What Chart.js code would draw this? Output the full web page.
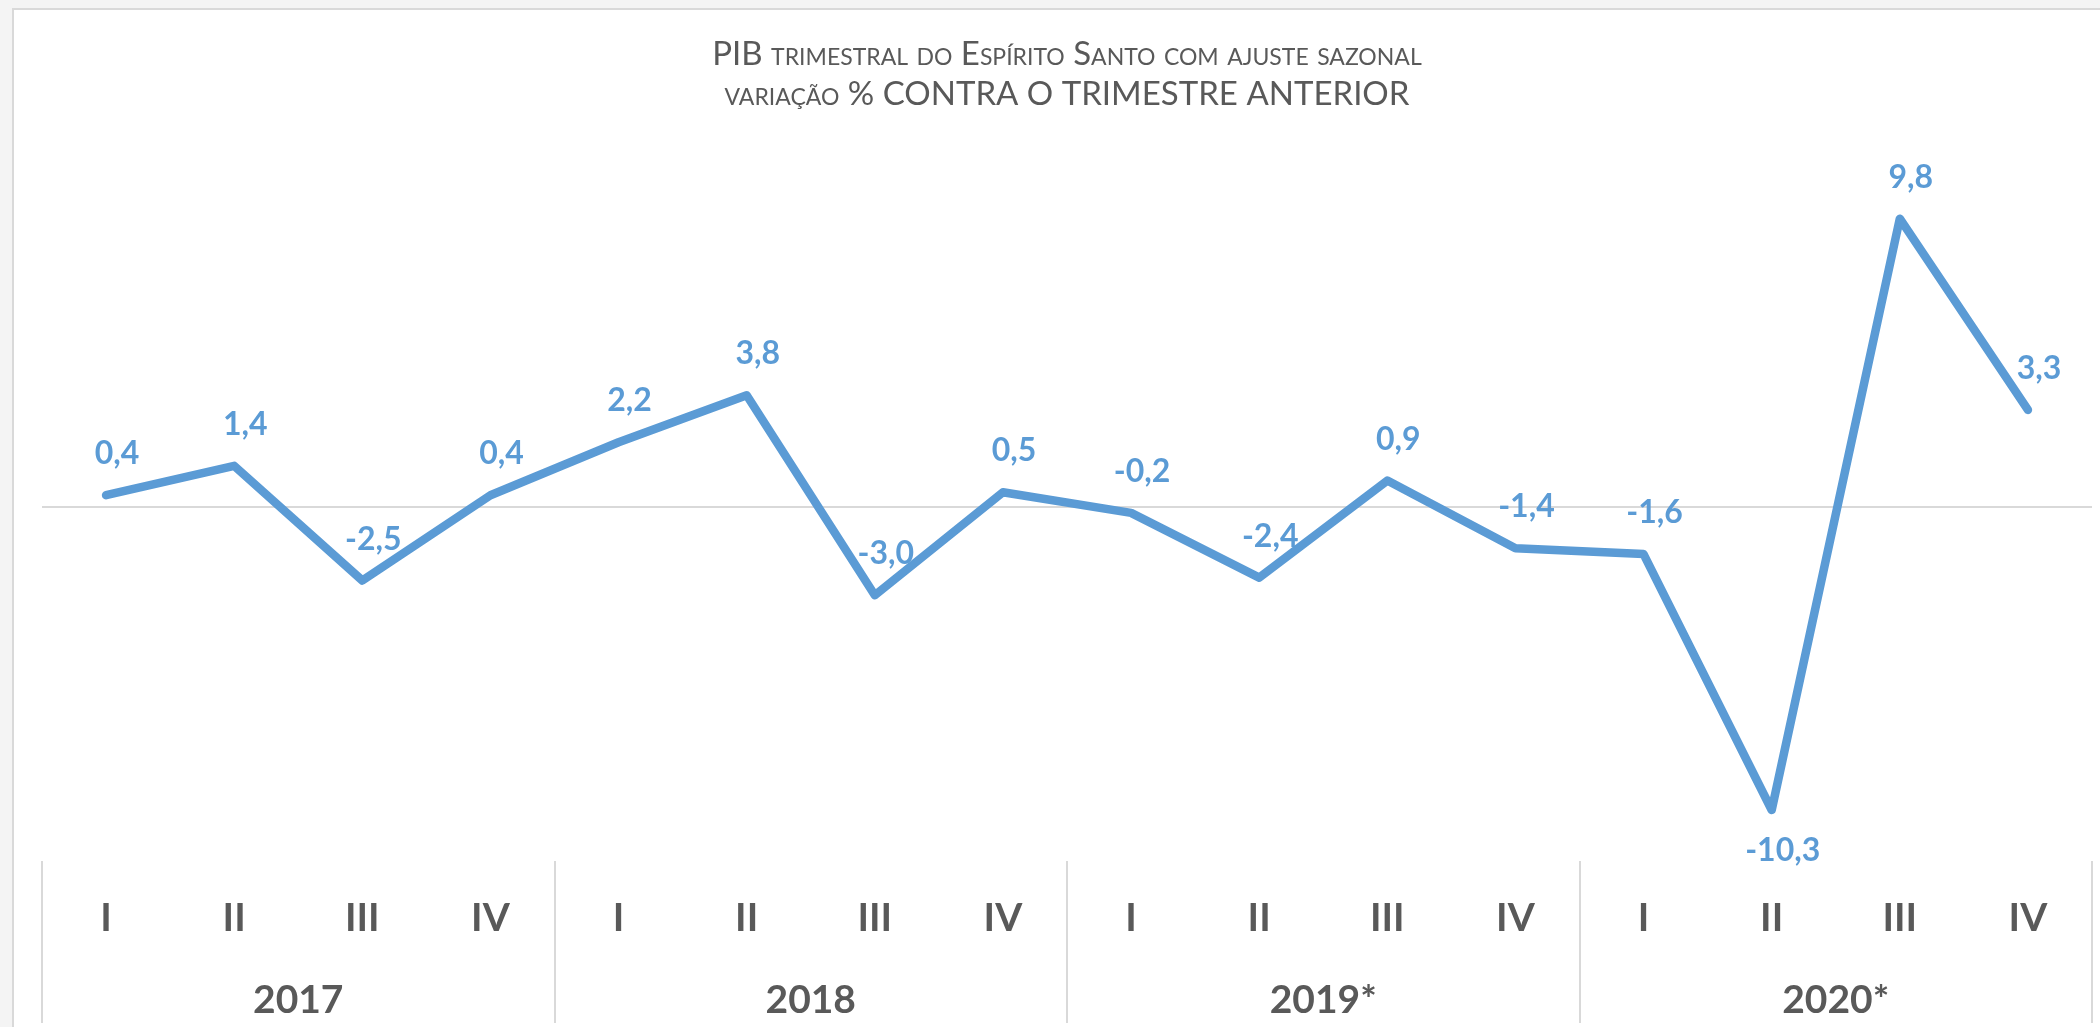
<!DOCTYPE html>
<html>
<head>
<meta charset="utf-8">
<script src="https://cdn.jsdelivr.net/npm/chart.js@4"></script>
<style>
  html, body { margin: 0; padding: 0; background: #f4f4f4; overflow: hidden; }
  #frame { position: absolute; left: 12px; top: 8px; width: 2200px; height: 1100px;
           background: #ffffff; border-left: 2px solid #d9d9d9; border-top: 2px solid #d9d9d9; }
  #c { position: absolute; left: 0; top: 0; }
</style>
</head>
<body>
<div id="frame"></div>
<canvas id="c" width="2100" height="1027"></canvas>
<script>
const titleLines = ['PIB trimestral do Espírito Santo com ajuste sazonal', 'variação % CONTRA O TRIMESTRE ANTERIOR'];
const quarterLabels = ['I','II','III','IV','I','II','III','IV','I','II','III','IV','I','II','III','IV'];
const yearLabels = ['2017', '2018', '2019*', '2020*'];
const pibVariation = [0.4, 1.4, -2.5, 0.4, 2.2, 3.8, -3.0, 0.5, -0.2, -2.4, 0.9, -1.4, -1.6, -10.3, 9.8, 3.3];
const labelBelow = [13];

const GREY = '#595959';
const BLUE = '#5B9BD5';
const LINE_GREY = '#d9d9d9';

const decorPlugin = {
  id: 'decor',
  afterDatasetsDraw(chart) {
    const ctx = chart.ctx;
    const meta = chart.getDatasetMeta(0);
    ctx.save();
    ctx.font = 'bold 32px Lato';
    ctx.fillStyle = BLUE;
    ctx.textAlign = 'center';
    ctx.textBaseline = 'alphabetic';
    meta.data.forEach((pt, i) => {
      const below = labelBelow.includes(i);
      const txt = pibVariation[i].toFixed(1).replace('.', ',');
      ctx.fillText(txt, pt.x + 11, below ? pt.y + 51 : pt.y - 31);
    });
    ctx.restore();
  },
  afterDraw(chart) {
    const ctx = chart.ctx;
    const xs = chart.scales.x;
    const band = xs.getPixelForValue(1) - xs.getPixelForValue(0);
    const top = chart.chartArea.bottom + 1;
    ctx.save();
    ctx.strokeStyle = LINE_GREY;
    ctx.lineWidth = 2;
    for (let g = 0; g <= yearLabels.length; g++) {
      const x = g < yearLabels.length
        ? xs.getPixelForValue(g * 4) - band / 2
        : xs.getPixelForValue(quarterLabels.length - 1) + band / 2;
      ctx.beginPath();
      ctx.moveTo(Math.round(x), top);
      ctx.lineTo(Math.round(x), 1023);
      ctx.stroke();
    }
    ctx.restore();
  }
};

new Chart(document.getElementById('c'), {
  type: 'line',
  data: {
    labels: quarterLabels,
    datasets: [{
      data: pibVariation,
      borderColor: BLUE,
      borderWidth: 8.5,
      pointRadius: 0,
      pointHoverRadius: 0,
      tension: 0,
      fill: false,
      borderCapStyle: 'round',
      borderJoinStyle: 'round'
    }]
  },
  options: {
    responsive: false,
    animation: false,
    devicePixelRatio: 1,
    layout: { padding: { left: 42, right: 8, top: 0, bottom: 0 } },
    plugins: {
      legend: { display: false },
      tooltip: { enabled: false },
      title: {
        display: true,
        text: titleLines,
        color: GREY,
        font: { family: 'Lato', size: 33, weight: 'small-caps', lineHeight: 1.212 },
        padding: { top: 34, bottom: 40 }
      }
    },
    scales: {
      x: {
        type: 'category',
        offset: true,
        weight: 0,
        grid: { display: false, drawTicks: false },
        border: { display: false },
        ticks: { color: GREY, font: { family: 'Lato', size: 39, weight: 'bold' }, padding: 35, autoSkip: false, maxRotation: 0 },
        afterFit(scale) { scale.height = 81; }
      },
      x2: {
        type: 'category',
        labels: yearLabels,
        position: 'bottom',
        offset: true,
        weight: 1,
        grid: { display: false, drawTicks: false },
        border: { display: false },
        ticks: { color: GREY, font: { family: 'Lato', size: 39, weight: 'bold' }, padding: 36, autoSkip: false, maxRotation: 0 },
        afterFit(scale) { scale.height = 86; }
      },
      y: {
        min: -12,
        max: 12,
        grid: {
          drawTicks: false,
          lineWidth: 2,
          color: (c) => (c.tick && c.tick.value === 0 ? LINE_GREY : 'rgba(0,0,0,0)')
        },
        border: { display: false },
        ticks: { display: false, stepSize: 2 }
      }
    }
  },
  plugins: [decorPlugin]
});
</script>
</body>
</html>
